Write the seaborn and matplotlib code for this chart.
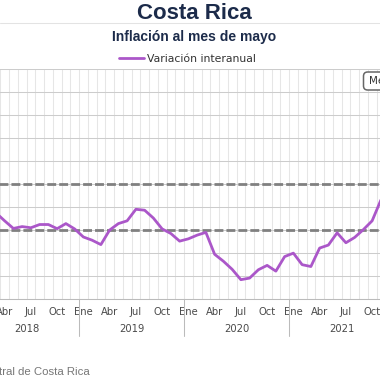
import numpy as np
import pandas as pd
import matplotlib
matplotlib.use('Agg')
import matplotlib.pyplot as plt
import matplotlib.transforms as mtransforms
from matplotlib.patches import FancyBboxPatch
from matplotlib.lines import Line2D
import seaborn as sns

# monthly year-on-year inflation, Jan 2018 .. May 2022
years = ['2018', '2019', '2020', '2021', '2022']
quarter_months = ['Ene', 'Abr', 'Jul', 'Oct']
inflacion = [
    2.55, 2.70, 2.75, 2.40, 2.07, 2.15, 2.10, 2.24, 2.24, 2.06, 2.28, 2.05,    # 2018
    1.70, 1.56, 1.37, 2.00, 2.28, 2.40, 2.90, 2.86, 2.52, 2.05, 1.85, 1.52,    # 2019
    1.62, 1.78, 1.90, 0.95, 0.65, 0.30, -0.15, -0.08, 0.28, 0.47, 0.22, 0.85,  # 2020
    1.00, 0.50, 0.42, 1.22, 1.35, 1.88, 1.45, 1.68, 2.02, 2.40, 3.30, 3.30,    # 2021
    3.50, 4.00, 5.80, 7.20, 8.70,                                              # 2022
]
meta_sup = 4
meta_inf = 2

df = pd.DataFrame({'mes': np.arange(len(inflacion)), 'valor': inflacion})
n = len(df)

sns.set_theme(style='white')
plt.rcParams['font.family'] = ['DejaVu Sans']

W = H = 380
def fx(px):
    return px / W
def fy(py):
    return 1 - py / H

fig = plt.figure(figsize=(3.8, 3.8), dpi=100)

# plot area is wider than the picture (the original is cropped on both sides)
month_w = 8.75
left_px, top_px, bottom_px = -26, 68.5, 299.3
right_px = left_px + n * month_w
ax = fig.add_axes([fx(left_px), fy(bottom_px), (right_px - left_px) / W, (bottom_px - top_px) / H])

sns.lineplot(data=df, x='mes', y='valor', color='#ab57c9', linewidth=2,
             label='Variación interanual', ax=ax, solid_joinstyle='round')

ax.axhline(meta_sup, color='#808080', lw=2, ls=(0, (3.2, 1.1)), zorder=1.5)
ax.axhline(meta_inf, color='#808080', lw=2, ls=(0, (3.2, 1.1)), zorder=1.5)

ax.set_xlim(-0.5, n - 0.5)
ax.set_ylim(-1, 9)
ax.set_yticks(range(-1, 10))
ax.set_xticks(np.arange(-0.5, n, 1), minor=True)
ticks = list(range(0, n, 3))
ax.set_xticks(ticks)
ax.set_xticklabels([quarter_months[(t // 3) % 4] for t in ticks])
ax.tick_params(axis='x', which='both', length=0, pad=5.8, labelsize=7.2, labelcolor='#4a4a4a')
ax.tick_params(axis='y', labelleft=False, length=0)
ax.set_axisbelow(True)
ax.yaxis.grid(True, color='#cccccc', lw=0.75)
ax.xaxis.grid(True, which='minor', color='#e6e6e6', lw=0.75)
ax.xaxis.grid(False, which='major')
ax.set_xlabel('')
ax.set_ylabel('')
for s in ['left', 'right', 'top']:
    ax.spines[s].set_visible(False)
ax.spines['bottom'].set_color('#bbbbbb')
ax.spines['bottom'].set_linewidth(0.75)

# year row under the month labels
trans = mtransforms.blended_transform_factory(ax.transData, ax.transAxes)
h_ax = bottom_px - top_px
for k, y in enumerate(years):
    start = 12 * k - 0.5
    end = min(12 * k + 11.5, n - 0.5)
    ax.text((start + end) / 2, -30 / h_ax, y, transform=trans, ha='center', va='center',
            fontsize=7.2, color='#4a4a4a')
for b in [-0.5, 11.5, 23.5, 35.5, 47.5, n - 0.5]:
    ax.plot([b, b], [0, -37 / h_ax], transform=trans, clip_on=False, color='#bbbbbb', lw=0.75)

ax.legend(loc='center', bbox_to_anchor=(fx(187), fy(59)), bbox_transform=fig.transFigure,
          frameon=False, handlelength=2.3, fontsize=7.8, labelcolor='#333333',
          borderpad=0, handletextpad=0.28)

# titles
fig.text(fx(194.5), fy(13.5), 'Costa Rica', ha='center', va='center', fontsize=16,
         fontweight='bold', color='#1c2b4a', family='Liberation Sans')
fig.text(fx(194), fy(37.5), 'Inflación al mes de mayo', ha='center', va='center', fontsize=10,
         fontweight='bold', color='#1c2b4a', family='Liberation Sans')
fig.add_artist(Line2D([0, 1], [fy(22.7)] * 2, transform=fig.transFigure, color='#e3e3e3', lw=0.75))

# menu button, cut at the right edge
fig.patches.append(FancyBboxPatch((fx(363.5), fy(90)), fx(60), 18 / H,
                                  boxstyle='round,pad=0,rounding_size=0.011',
                                  transform=fig.transFigure, facecolor='white',
                                  edgecolor='#666666', lw=1.1, figure=fig))
fig.text(fx(369.5), fy(81), 'Menú', ha='left', va='center', fontsize=7.5, color='#333333')

fig.text(fx(90), fy(372), 'Fuente: Banco Central de Costa Rica', ha='right', va='center',
         fontsize=8.2, color='#777777', family='Liberation Sans')

fig.savefig('out.png', dpi=100)
